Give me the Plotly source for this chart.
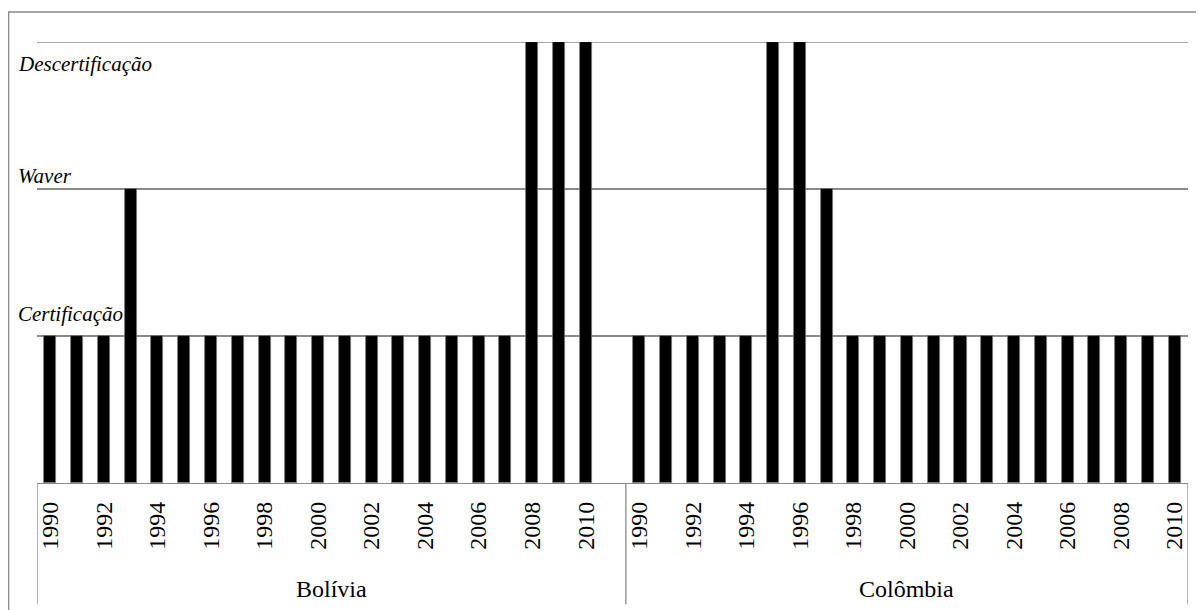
import plotly.graph_objects as go

# ---- data ----
years = list(range(1990, 2011))
countries = ["Bolívia", "Colômbia"]
# 1 = Certificação, 2 = Waver, 3 = Descertificação
bolivia = [1, 1, 1, 2, 1, 1, 1, 1, 1, 1, 1, 1, 1, 1, 1, 1, 1, 1, 3, 3, 3]
colombia = [1, 1, 1, 1, 1, 3, 3, 2, 1, 1, 1, 1, 1, 1, 1, 1, 1, 1, 1, 1, 1]
level_values = [1, 2, 3]
level_labels = ["Certificação", "Waver", "Descertificação"]

FONT = "Liberation Serif, Times New Roman, serif"
GRAY = "#8a8a8a"

# positions: Bolívia occupies slots 0..21 (last one empty), Colômbia 22..42
series = [bolivia, colombia]
group_start = [0, 22]
group_span = [(-0.5, 21.5), (21.5, 42.5)]

xs, ys = [], []
tickvals, ticktext = [], []
for g, vals in enumerate(series):
    for i, (yr, v) in enumerate(zip(years, vals)):
        pos = group_start[g] + i
        xs.append(pos)
        ys.append(v)
        if yr % 2 == 0:
            tickvals.append(pos)
            ticktext.append(str(yr))

fig = go.Figure()
fig.add_trace(go.Bar(x=xs, y=ys, width=0.45,
                     marker=dict(color="black", line=dict(width=0.8, color="#777777")),
                     showlegend=False, hoverinfo="skip"))

# page body has an 8px margin, so the figure is 8px smaller than the window
fig.update_layout(
    width=1196, height=602,
    margin=dict(l=29, r=16, t=34, b=127),
    paper_bgcolor="white", plot_bgcolor="white",
    font=dict(family=FONT, color="black"),
    bargap=0,
)
fig.update_xaxes(
    range=[-0.5, 42.5], tickmode="array", tickvals=tickvals, ticktext=ticktext,
    tickangle=-90, tickfont=dict(family=FONT, size=24, color="black"),
    ticklabelstandoff=8,
    showgrid=False, showline=True, linecolor=GRAY, linewidth=1.3, ticks="",
    zeroline=False,
)
fig.update_yaxes(
    range=[0, 3], tickmode="array", tickvals=level_values, showticklabels=False,
    showgrid=True, gridcolor=GRAY, gridwidth=1.5, zeroline=False, showline=False, ticks="",
)

# gridline at every level (the top one sits on the plot edge, so draw all explicitly)
for v in level_values:
    fig.add_shape(type="line", xref="x", yref="y", x0=-0.5, x1=42.5, y0=v, y1=v,
                  line=dict(color=GRAY, width=1.5), layer="below")

# level labels (italic), positioned relative to their grid levels
label_offsets = [0.147, 0.088, -0.15]
for v, lab, off in zip(level_values, level_labels, label_offsets):
    fig.add_annotation(x=-0.0182, xref="paper", xanchor="left", y=v + off, yref="y",
                       yanchor="middle", text=f"<i>{lab}</i>", showarrow=False,
                       font=dict(family=FONT, size=21, color="black"))

# group separators and group labels
for (a, b), name in zip(group_span, countries):
    fig.add_annotation(x=(a + b) / 2, xref="x", y=-0.241, yref="paper", text=name,
                       showarrow=False, font=dict(family=FONT, size=24, color="black"),
                       xanchor="center", yanchor="middle")
for xv in [group_span[0][0], group_span[0][1], group_span[1][1]]:
    fig.add_shape(type="line", xref="x", yref="paper", x0=xv, x1=xv, y0=0, y1=-0.275,
                  line=dict(color=GRAY, width=1.3))

# outer frame
fig.add_shape(type="rect", xref="paper", yref="paper", x0=-0.0246, x1=1.02, y0=-0.32, y1=1.068,
              line=dict(color=GRAY, width=1.3), layer="below")

fig.write_html("out.html")
